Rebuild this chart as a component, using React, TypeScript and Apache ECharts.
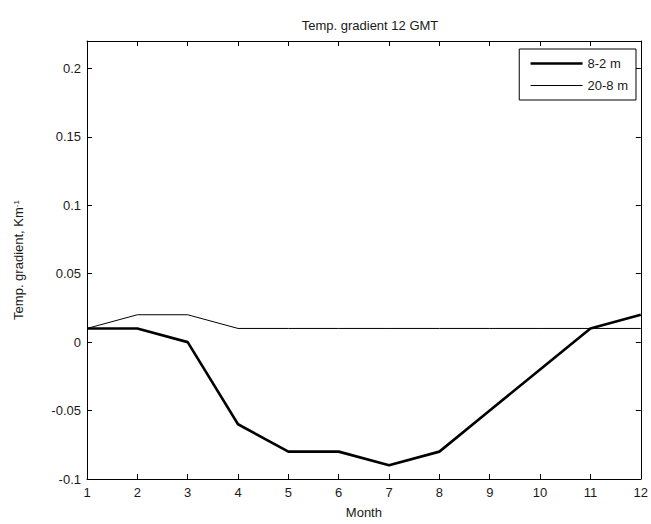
import React, { useEffect, useRef } from "react";
import * as echarts from "echarts";

const months = [1, 2, 3, 4, 5, 6, 7, 8, 9, 10, 11, 12];
const grad82 = [0.01, 0.01, 0, -0.06, -0.08, -0.08, -0.09, -0.08, -0.05, -0.02, 0.01, 0.02];
const grad208 = [0.01, 0.02, 0.02, 0.01, 0.01, 0.01, 0.01, 0.01, 0.01, 0.01, 0.01, 0.01];
const seriesNames = ["8-2 m", "20-8 m"];

const FONT = "Liberation Sans, Arial, sans-serif";
const TXT = "#1a1a1a";
const W_THICK = 2.6;
const W_THIN = 1;

export default function App() {
  const ref = useRef<HTMLDivElement>(null);
  useEffect(() => {
    document.body.style.margin = "0";
    const chart = echarts.init(ref.current!, null, { renderer: "svg" });
    const yFmt = (v: number) => {
      const k = v * 20;
      if (Math.abs(k - Math.round(k)) > 1e-6) return "";
      const r = Math.round(k) / 20;
      return String(parseFloat(r.toFixed(2)));
    };
    const axisLine = { show: true, onZero: false, lineStyle: { color: "#000", width: 1 } };
    const tick = { show: true, inside: true, length: 5, lineStyle: { color: "#000" } };
    chart.setOption({
      animation: false,
      backgroundColor: "#fff",
      textStyle: { fontFamily: FONT },
      title: {
        text: "Temp. gradient 12 GMT",
        left: 365,
        top: 14,
        textAlign: "center",
        textStyle: { fontFamily: FONT, fontSize: 13, fontWeight: "normal", color: TXT },
      },
      grid: { left: 87, right: 8, top: 41, bottom: 45, containLabel: false },
      legend: {
        orient: "vertical",
        right: 15,
        top: 49,
        data: [
          { name: seriesNames[0], lineStyle: { width: W_THICK, color: "#000" } },
          { name: seriesNames[1], lineStyle: { width: W_THIN, color: "#000" } },
        ],
        itemWidth: 52,
        itemHeight: 14,
        itemGap: 9,
        padding: [8, 8, 8, 10],
        borderColor: "#000",
        borderWidth: 1,
        backgroundColor: "#fff",
        itemStyle: { opacity: 0, borderWidth: 0 },
        textStyle: { fontFamily: FONT, fontSize: 13, color: TXT },
      },
      xAxis: [
        {
          type: "value",
          min: 1,
          max: 12,
          interval: 1,
          name: "Month",
          nameLocation: "middle",
          nameGap: 27,
          nameTextStyle: { fontFamily: FONT, fontSize: 13, color: TXT },
          axisLine,
          axisTick: tick,
          axisLabel: { margin: 7, fontFamily: FONT, fontSize: 13, color: TXT },
          splitLine: { show: false },
        },
        {
          type: "value",
          position: "top",
          min: 1,
          max: 12,
          interval: 1,
          axisLine,
          axisTick: tick,
          axisLabel: { show: false },
          splitLine: { show: false },
        },
      ],
      yAxis: [
        {
          type: "value",
          min: -0.1,
          max: 0.22,
          interval: 0.05,
          name: "Temp. gradient, Km{sup|-1}",
          nameLocation: "middle",
          nameRotate: 90,
          nameGap: 62,
          nameTextStyle: {
            fontFamily: FONT,
            fontSize: 13,
            color: TXT,
            rich: {
              sup: { fontFamily: FONT, fontSize: 8, color: TXT, verticalAlign: "top" },
            },
          },
          axisLine,
          axisTick: tick,
          axisLabel: { margin: 6, fontFamily: FONT, fontSize: 13, color: TXT, formatter: yFmt },
          splitLine: { show: false },
        },
        {
          type: "value",
          position: "right",
          min: -0.1,
          max: 0.22,
          interval: 0.05,
          axisLine,
          axisTick: tick,
          axisLabel: { show: false },
          splitLine: { show: false },
        },
      ],
      series: [
        {
          name: seriesNames[0],
          type: "line",
          data: months.map((m, i) => [m, grad82[i]]),
          symbol: "none",
          lineStyle: { color: "#000", width: W_THICK },
          itemStyle: { color: "#000" },
          xAxisIndex: 0,
          yAxisIndex: 0,
        },
        {
          name: seriesNames[1],
          type: "line",
          data: months.map((m, i) => [m, grad208[i]]),
          symbol: "none",
          lineStyle: { color: "#000", width: W_THIN },
          itemStyle: { color: "#000" },
          xAxisIndex: 0,
          yAxisIndex: 0,
        },
      ],
    });
    return () => chart.dispose();
  }, []);
  return (
    <div
      ref={ref}
      style={{ position: "fixed", left: 0, top: 0, width: 651, height: 524 }}
    />
  );
}
